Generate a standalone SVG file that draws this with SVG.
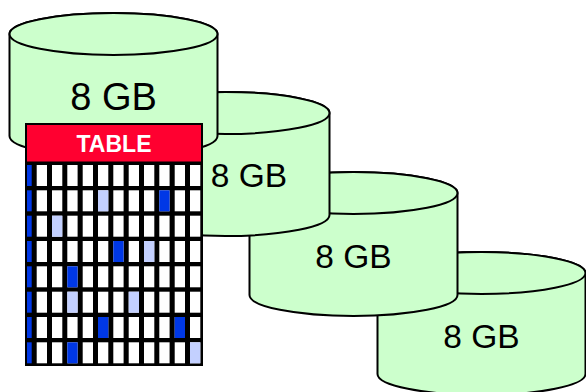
<svg xmlns="http://www.w3.org/2000/svg" xmlns:xlink="http://www.w3.org/1999/xlink" width="586" height="392" viewBox="0 0 586 392">
<style>
.cyl{fill:#CCFFCC;stroke:#000;stroke-width:2}
.lbl{font-family:"Liberation Sans",Arial,sans-serif;fill:#000;text-anchor:middle}
.w{fill:#fff}
.d{fill:#0038E6}
.l{fill:#C3D0FF}
.hdr{font-family:"Liberation Sans",Arial,sans-serif;font-weight:bold;font-size:23px;fill:#fff;text-anchor:middle}
</style>
<defs>
<g id="row">
<rect class="d" x="27" y="0" width="4.7" height="21"/>
<rect class="w" x="36.7" y="0" width="10.3" height="21"/>
<rect class="w" x="52" y="0" width="10.3" height="21"/>
<rect class="w" x="67.3" y="0" width="10.3" height="21"/>
<rect class="w" x="82.7" y="0" width="10.3" height="21"/>
<rect class="w" x="98" y="0" width="10.3" height="21"/>
<rect class="w" x="113.3" y="0" width="10.3" height="21"/>
<rect class="w" x="128.7" y="0" width="10.3" height="21"/>
<rect class="w" x="144" y="0" width="10.3" height="21"/>
<rect class="w" x="159.3" y="0" width="10.3" height="21"/>
<rect class="w" x="174.7" y="0" width="10.3" height="21"/>
<rect class="w" x="190" y="0" width="10.3" height="21"/>
</g>
</defs>
<g id="disk4">
<path class="cyl" d="M377.5,273 V374 A104,21 0 0 0 585.5,374 V273 A104,21 0 0 0 377.5,273 Z"/>
<ellipse class="cyl" cx="481.5" cy="273" rx="104" ry="21"/>
<text class="lbl" x="481.5" y="347.5" font-size="33.5">8 GB</text>
</g>
<g id="disk3">
<path class="cyl" d="M249.5,193 V295 A104,21 0 0 0 457.5,295 V193 A104,21 0 0 0 249.5,193 Z"/>
<ellipse class="cyl" cx="353.5" cy="193" rx="104" ry="21"/>
<text class="lbl" x="353.5" y="267.5" font-size="33.5">8 GB</text>
</g>
<g id="disk2">
<path class="cyl" d="M121.5,113 V215 A104,21 0 0 0 329.5,215 V113 A104,21 0 0 0 121.5,113 Z"/>
<ellipse class="cyl" cx="225.5" cy="113" rx="104" ry="21"/>
<text class="lbl" x="249" y="187" font-size="33.5">8 GB</text>
</g>
<g id="disk1">
<path class="cyl" d="M9.5,34 V136 A104,21 0 0 0 217.5,136 V34 A104,21 0 0 0 9.5,34 Z"/>
<ellipse class="cyl" cx="113.5" cy="34" rx="104" ry="21"/>
<text class="lbl" x="113.5" y="110" font-size="38">8 GB</text>
</g>
<g id="table">
<rect x="25" y="123" width="178" height="243" fill="#000"/>
<rect x="27" y="125" width="174" height="36.5" fill="#FF0030"/>
<text class="hdr" x="114" y="152">TABLE</text>
<use xlink:href="#row" transform="translate(0,165)"/>
<use xlink:href="#row" transform="translate(0,190.3)"/>
<use xlink:href="#row" transform="translate(0,215.7)"/>
<use xlink:href="#row" transform="translate(0,241)"/>
<use xlink:href="#row" transform="translate(0,266.3)"/>
<use xlink:href="#row" transform="translate(0,291.7)"/>
<use xlink:href="#row" transform="translate(0,317)"/>
<use xlink:href="#row" transform="translate(0,342.3)"/>
<rect class="l" x="98" y="190.3" width="10.3" height="21"/>
<rect class="d" x="159.3" y="190.3" width="10.3" height="21"/>
<rect class="l" x="52" y="215.7" width="10.3" height="21"/>
<rect class="d" x="113.3" y="241" width="10.3" height="21"/>
<rect class="l" x="144" y="241" width="10.3" height="21"/>
<rect class="d" x="67.3" y="266.3" width="10.3" height="21"/>
<rect class="l" x="67.3" y="291.7" width="10.3" height="21"/>
<rect class="l" x="128.7" y="291.7" width="10.3" height="21"/>
<rect class="d" x="98" y="317" width="10.3" height="21"/>
<rect class="d" x="174.7" y="317" width="10.3" height="21"/>
<rect class="d" x="67.3" y="342.3" width="10.3" height="21"/>
<rect class="l" x="190" y="342.3" width="10.3" height="21"/>
</g>
<g id="connectors"/>
</svg>
